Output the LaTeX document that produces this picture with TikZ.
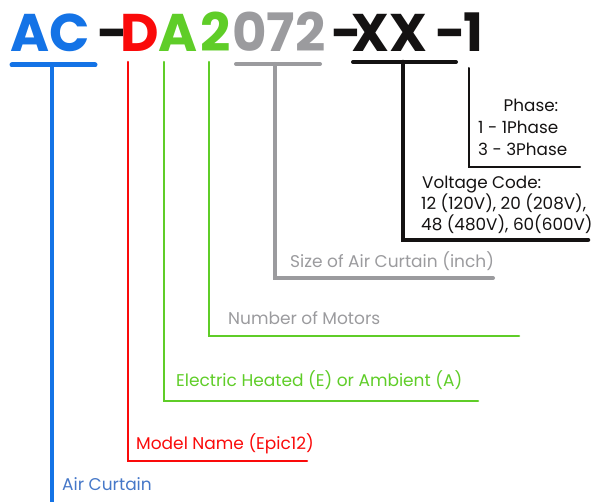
\documentclass[tikz,border=0pt]{standalone}
\usepackage{fontspec}
\setmainfont{Poppins}
\newfontfamily\titlefont{Poppins}
\definecolor{cblue}{RGB}{20,115,230}
\definecolor{clblue}{RGB}{70,120,200}
\definecolor{cred}{RGB}{250,10,10}
\definecolor{cgreen}{RGB}{95,205,40}
\definecolor{cgray}{RGB}{155,155,158}
\definecolor{cblack}{RGB}{20,18,18}
\begin{document}
\begin{tikzpicture}[x=1pt,y=-1pt,
  title/.style={inner sep=0pt,anchor=base west,font=\titlefont\bfseries\fontsize{53}{53}\selectfont},
  lbl/.style={inner sep=0pt,anchor=base west,font=\fontsize{17}{20}\selectfont},
  blbl/.style={inner sep=0pt,anchor=base west,font=\fontsize{16.8}{20}\selectfont},
  lead/.style={line cap=round,line join=miter}]
\useasboundingbox (0,0) rectangle (596,502);
% title
\node[title,text=cblue] (tAC) at (10,52) {AC};
\node[title,text=cblack] (td1) at (97,52) {-};
\node[title,text=cred] (tD) at (120,52) {D};
\node[title,text=cgreen] (tA) at (158,52) {A};
\node[title,text=cgreen] (t2) at (200,52) {2};
\node[title,text=cgray] (tsz) at (232,52) {072};
\node[title,text=cblack] (td2) at (331,52) {-};
\node[title,text=cblack] (tXX) at (351,52) {XX};
\node[title,text=cblack] (td3) at (435,52) {-};
\node[title,text=cblack] (t1) at (463,52) {1};
% underline bars
\draw[cblue,line width=5pt,line cap=round] (12,65) -- (95,65);
\draw[cgray,line width=4pt,line cap=round] (236,64) -- (320,64);
\draw[cblack,line width=4pt,line cap=round] (353,62) -- (456,62);
% labels
\node[blbl,text=cblack,anchor=base] (ph) at (531,112) {Phase:};
\node[blbl,text=cblack] (ph1) at (478,134) {1 - 1Phase};
\node[blbl,text=cblack] (ph3) at (478,156) {3 - 3Phase};
\node[blbl,text=cblack] (vc) at (422,189) {Voltage Code:};
\node[blbl,text=cblack] (vc1) at (421,210) {12 (120V), 20 (208V),};
\node[blbl,text=cblack] (vc2) at (421,231) {48 (480V), 60(600V)};
\node[lbl,text=cgray] (lsz) at (290,268) {Size of Air Curtain (inch)};
\node[lbl,text=cgray] (lmo) at (228,324) {Number of Motors};
\node[lbl,text=cgreen] (leh) at (176,386) {Electric Heated (E) or Ambient (A)};
\node[lbl,text=cred] (lmn) at (136,449) {Model Name (Epic12)};
\node[lbl,text=clblue] (lac) at (62,490) {Air Curtain};
% leader lines
\coordinate (bluetop) at (52,65);
\draw[cblue,line width=4pt] (bluetop) -- (52,502);
\draw[cred,line width=2.5pt,lead] (128,62) -- (128,461) -- (307,461);
\draw[cgreen,line width=2.5pt,lead] (164,62) -- (164,401) -- (478,401);
\draw[cgreen,line width=2.5pt,lead] (209,62) -- (209,336) -- (519,336);
\draw[cgray,line width=4pt,lead] (275,64) -- (275,278) -- (493,278);
\draw[cblack,line width=4.5pt,lead] (403,62) -- (403,240) -- (588,240);
\draw[cblack,line width=2pt,lead] (469,68) -- (469,167) -- (580,167);
\end{tikzpicture}
\end{document}
